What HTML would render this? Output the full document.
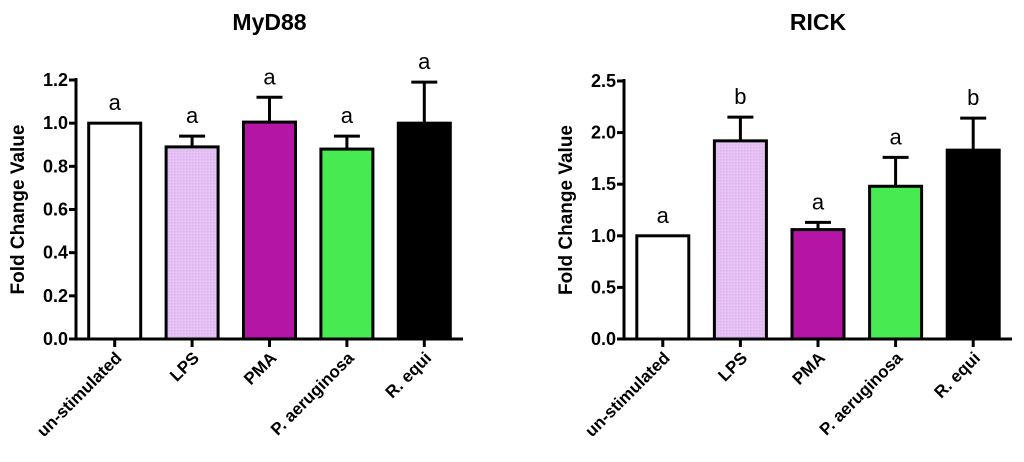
<!DOCTYPE html>
<html><head><meta charset="utf-8"><style>body{margin:0;background:#fff}svg{display:block;font-family:"Liberation Sans",sans-serif;font-weight:bold}</style></head>
<body>
<svg id="c" width="1024" height="462">
<defs><pattern id="pl" width="3" height="3" patternUnits="userSpaceOnUse"><rect width="3" height="3" fill="#e6c3f5"/><rect width="1.5" height="1.5" fill="#dcb2ef"/></pattern></defs>
</svg>
<script>
const categories=["un-stimulated","LPS","PMA","P. aeruginosa","R. equi"];
const myd88Values=[1.0,0.89,1.005,0.88,1.0];
const myd88ErrTop=[1.0,0.94,1.12,0.94,1.19];
const myd88Letters=["a","a","a","a","a"];
const myd88Ticks=["0.0","0.2","0.4","0.6","0.8","1.0","1.2"];
const rickValues=[1.0,1.92,1.06,1.48,1.83];
const rickErrTop=[1.0,2.15,1.13,1.76,2.14];
const rickLetters=["a","b","a","a","b"];
const rickTicks=["0.0","0.5","1.0","1.5","2.0","2.5"];
const fills=["#ffffff","url(#pl)","#b515a5","#47ea50","#000000"];
const svg=document.getElementById('c');
const NS='http://www.w3.org/2000/svg';
function mk(t,a,p){const e=document.createElementNS(NS,t);for(const k in a)e.setAttribute(k,a[k]);(p||svg).appendChild(e);return e;}
function chart(name,title,x0,x1,yTop,yBot,ymax,ticks,vals,errs,letters){
  const g=mk('g',{});
  
  
  const y=v=>yBot-(v/ymax)*(yBot-yTop);
  const step=(x1-x0)/categories.length;
  const cx=i=>x0+step*(i+0.5);
  const t=mk('text',{x:(x0+x1)/2,y:30,'text-anchor':'middle','font-size':23},g);t.textContent=title;
  
  
  const yt=mk('text',{transform:`translate(${x0-52},${(yTop+yBot)/2}) rotate(-90)`,'text-anchor':'middle','font-size':19},g);yt.textContent='Fold Change Value';
  
  
  vals.forEach((v,i)=>{
    const bw=52;
    const e=errs[i];
    if(e>v){mk('line',{x1:cx(i),x2:cx(i),y1:y(v),y2:y(e),stroke:'#000','stroke-width':3},g);
      mk('line',{x1:cx(i)-13,x2:cx(i)+13,y1:y(e),y2:y(e),stroke:'#000','stroke-width':3},g);}
    const r=mk('rect',{x:cx(i)-bw/2,y:y(v),width:bw,height:yBot-y(v),fill:fills[i],stroke:'#000','stroke-width':3},g);
    
    
    const l=mk('text',{x:cx(i),y:y(Math.max(v,e))-13,'text-anchor':'middle','font-size':22,'font-weight':'normal'},g);l.textContent=letters[i];
    
    
    mk('line',{x1:cx(i),x2:cx(i),y1:yBot,y2:yBot+8,stroke:'#000','stroke-width':3},g);
    const c=mk('text',{transform:`translate(${cx(i)+8},${yBot+20}) rotate(-45)`,'text-anchor':'end','font-size':17},g);c.textContent=categories[i];
    
    
  });
  ticks.forEach((s,i)=>{
    const v=ymax*i/(ticks.length-1);
    mk('line',{x1:x0-7,x2:x0,y1:y(v),y2:y(v),stroke:'#000','stroke-width':3},g);
    const tt=mk('text',{x:x0-8,y:y(v)+6,'text-anchor':'end','font-size':18},g);tt.textContent=s;
    
    
  });
  mk('line',{x1:x0,x2:x0,y1:yTop-2,y2:yBot+1.5,stroke:'#000','stroke-width':3},g);
  mk('line',{x1:x0-7,x2:x1,y1:yBot,y2:yBot,stroke:'#000','stroke-width':3},g);
}
chart('myd88','MyD88',76,463,80,339,1.2,myd88Ticks,myd88Values,myd88ErrTop,myd88Letters);
chart('rick','RICK',624,1012,81,339,2.5,rickTicks,rickValues,rickErrTop,rickLetters);
</script>
</body></html>
